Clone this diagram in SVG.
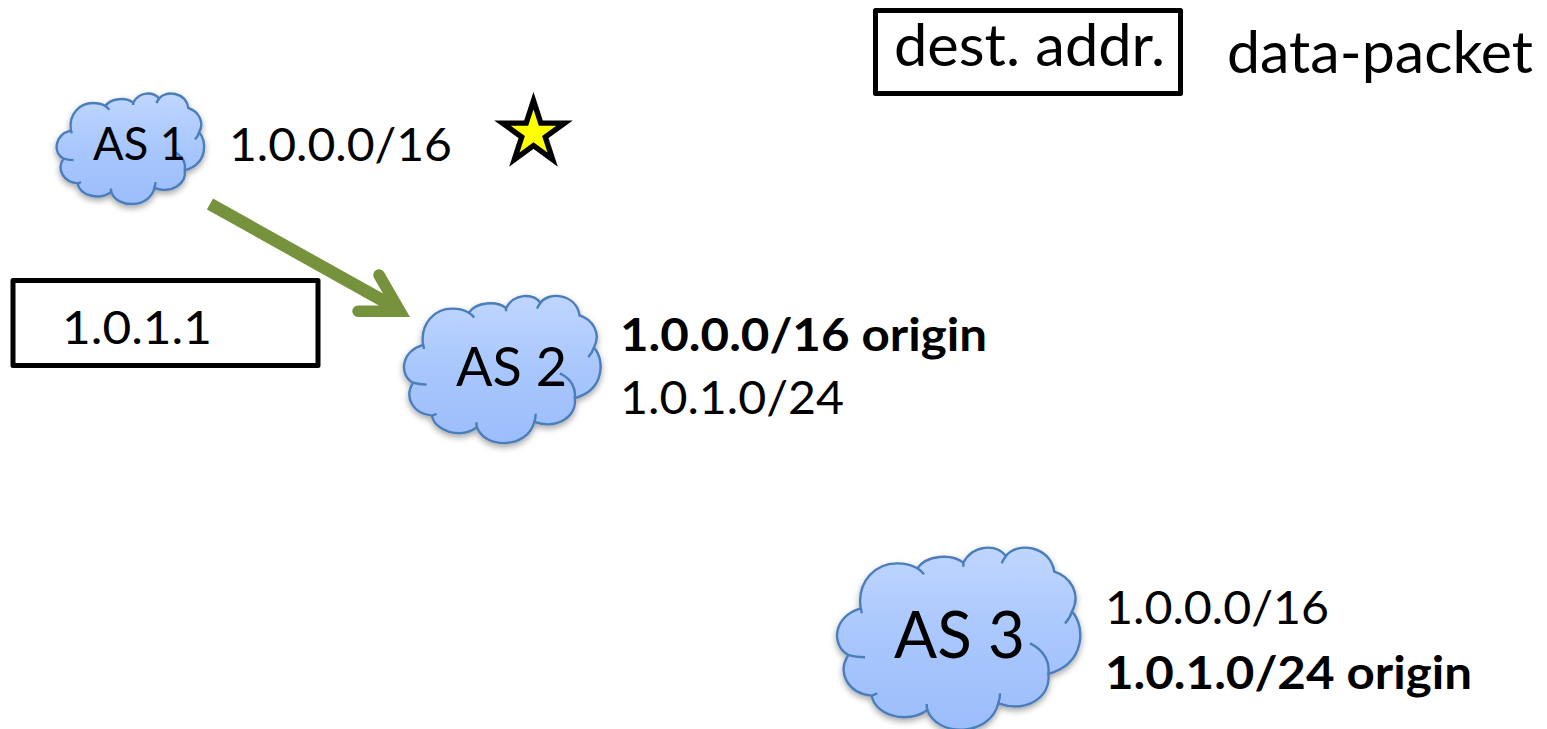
<svg xmlns="http://www.w3.org/2000/svg" xmlns:xlink="http://www.w3.org/1999/xlink" width="1547" height="729" viewBox="0 0 1547 729">
<style>
text{font-family:"Lato","Carlito","Open Sans",sans-serif;fill:#000}
.b{font-weight:700}
.box{fill:#fff;stroke:#000;stroke-width:5;stroke-linejoin:round}
.o{fill:url(#cg);stroke:#4a7ebb;stroke-width:2.4;vector-effect:non-scaling-stroke}
.d{fill:none;stroke:#4a7ebb;stroke-width:2.4;vector-effect:non-scaling-stroke}
</style>
<defs>
<linearGradient id="cg" x1="0" y1="0" x2="0" y2="1"><stop offset="0" stop-color="#bfd6fe"/><stop offset="0.5" stop-color="#a9c7fd"/><stop offset="1" stop-color="#9cbdfb"/></linearGradient>
<filter id="sh" x="-10%" y="-10%" width="120%" height="125%"><feDropShadow dx="0" dy="3" stdDeviation="3" flood-color="#000" flood-opacity="0.35"/></filter>
<g id="cloud">
<path class="o" d="M122,235C110,150 170,100 230,100C255,100 278,106 292,115C320,75 395,70 430,98C460,42 530,42 558,78C590,35 690,45 703,125C750,140 785,190 756,245C795,285 800,400 685,432C695,500 620,550 535,520C510,622 350,622 322,540C260,585 165,555 155,497C85,490 50,430 85,375C35,350 35,260 122,235Z"/>
<path class="d" d="M292,115Q303,122 312,133M430,98Q430,103 430,110M558,78Q550,88 545,100M703,125Q703,123 700,122M756,245Q750,265 735,280M630,340C672,360 690,395 685,432M535,520Q540,505 540,490M322,540Q320,532 320,522M155,497Q163,495 172,490M85,375Q105,382 135,382M122,235Q125,240 125,250"/>
</g>
</defs>

<g id="connectors">
<path d="M210,204L398,309" fill="none" stroke="#76923c" stroke-width="12.5"/>
<path d="M379,275L400,311.2L358,311.2" fill="none" stroke="#76923c" stroke-width="11.5" stroke-linecap="round"/>
</g>

<g id="as1">
<g filter="url(#sh)"><use xlink:href="#cloud" href="#cloud" transform="translate(46.2,82.8) scale(.2023)"/></g>
<text x="93" y="160" font-size="46" textLength="93" lengthAdjust="spacingAndGlyphs">AS 1</text>
</g>
<g id="as1-prefix"><text x="229" y="161" font-size="46" textLength="223" lengthAdjust="spacingAndGlyphs">1.0.0.0/16</text></g>
<g id="star"><polygon points="533.5,100.6 540.8,123.1 564.5,123.1 545.3,137 552.7,159.6 533.5,145.65 514.3,159.6 521.7,137 502.5,123.1 526.2,123.1" fill="#ff0" stroke="#000" stroke-width="5.4" stroke-miterlimit="10"/></g>

<g id="packet-header"><rect class="box" x="875.5" y="10.5" width="305" height="83"/>
<text x="894" y="66" font-size="59" textLength="271" lengthAdjust="spacingAndGlyphs">dest. addr.</text></g>
<g id="packet-label"><text x="1227" y="73" font-size="59" textLength="306" lengthAdjust="spacingAndGlyphs">data-packet</text></g>

<g id="packet"><rect class="box" x="13" y="280.5" width="305" height="85"/>
<text x="62" y="344" font-size="46" textLength="150" lengthAdjust="spacingAndGlyphs">1.0.1.1</text></g>

<g id="as2">
<g filter="url(#sh)"><use xlink:href="#cloud" href="#cloud" transform="translate(390.2,281.7) scale(.2694)"/></g>
<text x="456" y="386" font-size="55" textLength="111" lengthAdjust="spacingAndGlyphs">AS 2</text>
</g>
<g id="as2-prefixes">
<text class="b" x="620" y="351" font-size="46" textLength="367" lengthAdjust="spacingAndGlyphs">1.0.0.0/16 origin</text>
<text x="620" y="414" font-size="46" textLength="224" lengthAdjust="spacingAndGlyphs">1.0.1.0/24</text>
</g>

<g id="as3">
<g filter="url(#sh)"><use xlink:href="#cloud" href="#cloud" transform="translate(820,530) scale(.3333)"/></g>
<text x="894" y="658" font-size="65" textLength="131" lengthAdjust="spacingAndGlyphs">AS 3</text>
</g>
<g id="as3-prefixes">
<text x="1105" y="624" font-size="46" textLength="224" lengthAdjust="spacingAndGlyphs">1.0.0.0/16</text>
<text class="b" x="1105" y="689" font-size="46" textLength="367" lengthAdjust="spacingAndGlyphs">1.0.1.0/24 origin</text>
</g>
</svg>
